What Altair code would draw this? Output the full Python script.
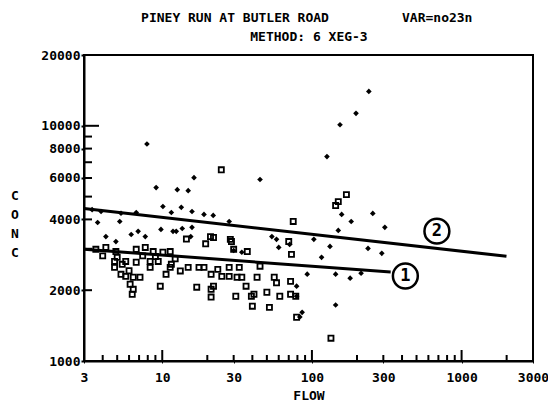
import altair as alt
import pandas as pd

FONT = "DejaVu Sans Mono"

# Filled diamonds (upper cloud)
flow_d = [7.9, 9.1, 12.6, 14.9, 16.3, 45, 240, 197, 154, 126, 158, 183, 255, 307, 150,
          132, 237, 293, 116, 103, 93, 144, 180, 213, 79, 79, 144, 86, 83, 3.4, 3.9,
          5.3, 6.7, 10.1, 11.5, 13.4, 15.8, 19, 21.9, 28, 3.7, 5.2, 4.2, 4.9, 6.2,
          6.9, 7.7, 9.8, 11.8, 13.6, 15.8, 54, 58, 60, 71, 30, 34, 12.4, 15.5]
conc_d = [8370, 5460, 5350, 5300, 6020, 5910, 14000, 11300, 10100, 7400, 4200, 3920, 4240, 3700, 3590,
          3070, 3010, 2870, 2760, 3290, 2340, 2340, 2250, 2360, 2080, 1885, 1730, 1610, 1540, 4400, 4320,
          4250, 4280, 4540, 4280, 4500, 4320, 4200, 4160, 3920, 3880, 3920, 3380, 3220, 3450,
          3560, 3380, 3625, 3560, 3660, 3700, 3380, 3290, 3040, 3130, 2950, 2900, 3560, 3380]

# Open squares (lower cloud)
flow_o = [24.8, 170, 150, 144, 75, 70, 22, 28.5, 37, 134, 3.6, 4.2, 4.9, 6.7, 7.7, 8.7, 10.1,
          11.3, 4.8, 5.7, 6.7, 8.3, 9.4, 11.5, 4.8, 5.3, 5.7, 6.4, 7.1, 6.1, 6.4, 6.3, 9.7,
          8.3, 10.6, 11.3, 13.2, 14.9, 17, 21.2, 22, 21.2, 31, 39.4, 41, 40, 52, 50, 61, 72,
          78, 36.3, 43, 56, 58, 72, 17.6, 19, 21.2, 25, 28, 31.6, 34, 23.5, 28, 32.7, 45, 79,
          73, 21, 29, 30, 5.4, 14.5, 19.5, 4.0, 5.0, 6.0, 7.4, 9.0, 12.2]
conc_o = [6500, 5100, 4760, 4580, 3920, 3220, 3350, 3290, 2920, 1250, 2985, 3040, 2920, 2985, 3040, 2920, 2900,
          2920, 2650, 2650, 2630, 2650, 2650, 2577, 2500, 2337, 2290, 2270, 2270, 2120, 2018, 1922, 2080,
          2500, 2337, 2500, 2415, 2500, 2060, 2018, 2080, 1870, 1885, 1885, 1922, 1710, 1690, 1960, 1885, 1922,
          1885, 2080, 2270, 2270, 2150, 2180, 2500, 2500, 2337, 2290, 2290, 2270, 2270, 2453, 2500, 2500, 2530, 1535,
          2840, 3380, 3220, 2985, 2577, 3300, 3150, 2800, 2760, 2420, 2800, 2780, 2720]

# Regression lines
line_id = ["1", "1", "2", "2"]
line_flow = [3, 336, 3, 1995]
line_conc = [2985, 2390, 4450, 2786]

# Circled labels
lab_text = ["1", "2"]
lab_flow = [421, 684]
lab_conc = [2298, 3565]

x_labels = [3, 10, 30, 100, 300, 1000, 3000]
y_labels = [1000, 2000, 4000, 6000, 8000, 10000, 20000]
x_minor = [4, 5, 6, 7, 8, 9, 20, 30, 40, 50, 60, 70, 80, 90, 200, 300, 400, 500, 600,
           700, 800, 900, 2000]
x_major = [10, 100, 1000]
y_minor = [2000, 3000, 4000, 5000, 6000, 7000, 8000, 9000]
y_major = [10000]

W, H = 449, 306

x_enc = alt.X("flow:Q", title="FLOW",
              scale=alt.Scale(type="log", domain=[3, 3000], nice=False),
              axis=alt.Axis(values=x_labels, format="d", grid=False, tickSize=2, labelPadding=8,
                            labelFont=FONT, labelFontSize=13, labelFontWeight="bold",
                            labelColor="black", titleFont=FONT, titleFontSize=13,
                            titleFontWeight="bold", titleColor="black", titlePadding=5,
                            domainColor="black", domainWidth=2, tickColor="black",
                            labelFlush=False, labelOverlap=False))
y_enc = alt.Y("conc:Q", title=None,
              scale=alt.Scale(type="log", domain=[1000, 20000], nice=False),
              axis=alt.Axis(values=y_labels, format="d", grid=False, tickSize=3, labelPadding=1,
                            labelFont=FONT, labelFontSize=13, labelFontWeight="bold",
                            labelColor="black", domainColor="black", domainWidth=2,
                            tickColor="black", tickWidth=2, labelFlush=False,
                            labelOverlap=False))

df_d = pd.DataFrame({"flow": flow_d, "conc": conc_d})
df_o = pd.DataFrame({"flow": flow_o, "conc": conc_o})
df_l = pd.DataFrame({"id": line_id, "flow": line_flow, "conc": line_conc})
df_lab = pd.DataFrame({"lab": lab_text, "flow": lab_flow, "conc": lab_conc})

pts_d = alt.Chart(df_d).mark_point(shape="diamond", filled=True, color="black",
                                   size=32, opacity=1).encode(x=x_enc, y=y_enc)
pts_o = alt.Chart(df_o).mark_point(shape="square", filled=False, color="black",
                                   size=26, strokeWidth=1.8, opacity=1).encode(x=x_enc, y=y_enc)
lines = alt.Chart(df_l).mark_line(color="black", strokeWidth=3).encode(
    x=x_enc, y=y_enc, detail="id:N")
circles = alt.Chart(df_lab).mark_point(shape="circle", filled=False, color="black",
                                       size=620, strokeWidth=2.5, opacity=1).encode(x=x_enc, y=y_enc)
circ_txt = alt.Chart(df_lab).mark_text(font=FONT, fontSize=17, fontWeight="bold",
                                       color="black").encode(x=x_enc, y=y_enc, text="lab:N")

# inward tick marks
xt_minor = alt.Chart(pd.DataFrame({"flow": x_minor})).mark_rule(
    color="black", strokeWidth=2).encode(x=x_enc, y=alt.value(H), y2=alt.value(H - 6))
xt_major = alt.Chart(pd.DataFrame({"flow": x_major})).mark_rule(
    color="black", strokeWidth=2).encode(x=x_enc, y=alt.value(H), y2=alt.value(H - 11))
yt_minor = alt.Chart(pd.DataFrame({"conc": y_minor})).mark_rule(
    color="black", strokeWidth=2).encode(y=y_enc, x=alt.value(0), x2=alt.value(8))
yt_major = alt.Chart(pd.DataFrame({"conc": y_major})).mark_rule(
    color="black", strokeWidth=2).encode(y=y_enc, x=alt.value(0), x2=alt.value(15))

def label(text, x, y, align="center"):
    return alt.Chart(pd.DataFrame({"t": [text]})).mark_text(
        font=FONT, fontSize=13, fontWeight="bold", color="black", align=align,
        baseline="middle", lineBreak="\n", lineHeight=19
    ).encode(text="t:N", x=alt.value(x), y=alt.value(y))

t1 = label("PINEY RUN AT BUTLER ROAD", 151, -37)
t2 = label("VAR=no23n", 318, -37, align="left")
t3 = label("METHOD: 6 XEG-3", 225, -18)
conc_title = label("C\nO\nN\nC", -69, 141)

chart = alt.layer(
    pts_d, pts_o, lines, circles, circ_txt, xt_minor, xt_major, yt_minor, yt_major,
    t1, t2, t3, conc_title
).properties(
    width=W, height=H,
    padding={"left": 84, "top": 55, "right": 15, "bottom": 41},
    autosize=alt.AutoSizeParams(type="none"),
    background="white"
).configure_view(stroke="black", strokeWidth=2)

chart.save("out.html", embed_options={"renderer": "svg", "actions": False})
